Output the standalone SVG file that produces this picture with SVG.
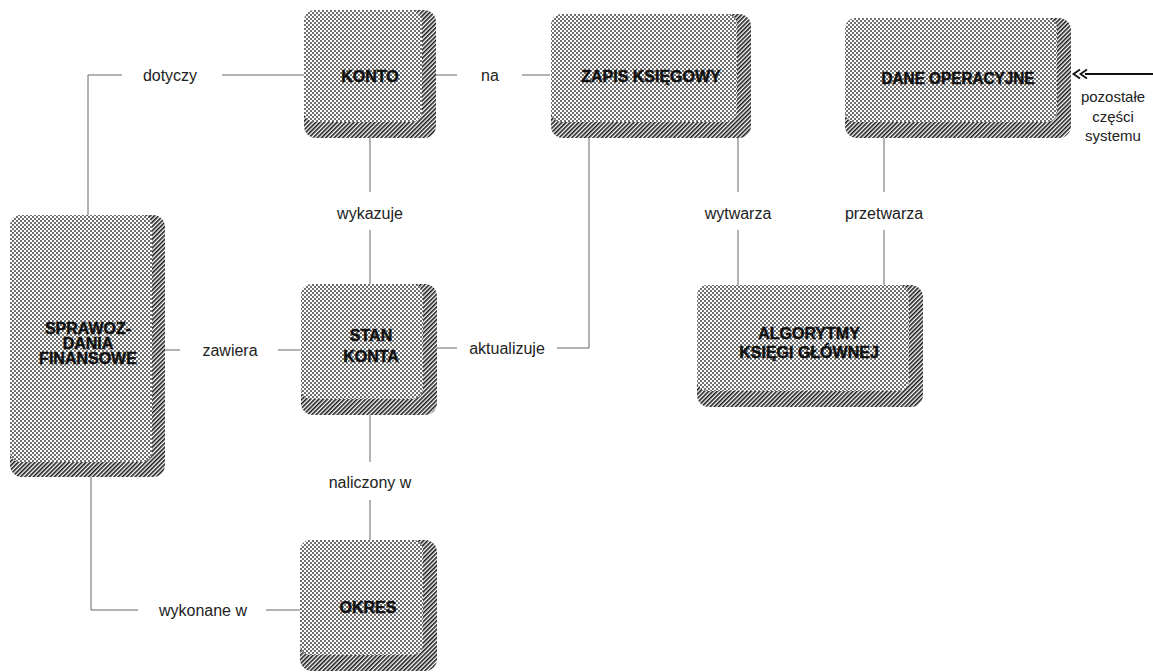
<svg xmlns="http://www.w3.org/2000/svg" width="1153" height="672" viewBox="0 0 1153 672">
  <defs>
    <!-- halftone face of a key-cap box -->
    <pattern id="dots" width="4" height="4" patternUnits="userSpaceOnUse">
      <rect width="4" height="4" fill="#fff"/>
      <circle cx="1" cy="1" r="0.95" fill="#333"/>
      <circle cx="3" cy="3" r="0.95" fill="#333"/>
    </pattern>
    <!-- darker hatched bevel on the right and bottom -->
    <pattern id="hatch" width="3" height="3" patternUnits="userSpaceOnUse" patternTransform="rotate(45)">
      <rect width="3" height="3" fill="#fff"/>
      <rect width="1.6" height="3" fill="#1a1a1a"/>
    </pattern>
  </defs>
  <style>
    .bevel { fill: url(#hatch); }
    .face { fill: url(#dots); }
    .name { font-family: "Liberation Sans", Arial, sans-serif; font-weight: bold; font-size: 16px; fill: #111; stroke: #111; stroke-width: 0.5; text-anchor: middle; }
    .lbl { font-family: "Liberation Sans", Arial, sans-serif; font-size: 16px; fill: #222; text-anchor: middle; }
    .side { font-size: 15px; }
    .ln { fill: none; stroke: #666; stroke-width: 1; }
    .inflow { fill: none; stroke: #111; stroke-width: 1.8; }
  </style>
  <rect width="1153" height="672" fill="#fff"/>

  <!-- connectors -->
  <g id="connectors">
    <path class="ln" d="M88,215 V75 H122 M222,75 H304"/>
    <text class="lbl" x="170" y="81">dotyczy</text>
    <path class="ln" d="M436,75 H457 M522,75 H550"/>
    <text class="lbl" x="490" y="81">na</text>
    <path class="ln" d="M370,138 V192 M370,230 V285"/>
    <text class="lbl" x="370" y="219">wykazuje</text>
    <path class="ln" d="M437,348 H457 M557,348 H589 V138"/>
    <text class="lbl" x="507" y="354">aktualizuje</text>
    <path class="ln" d="M738,138 V192 M738,230 V285"/>
    <text class="lbl" x="738" y="219">wytwarza</text>
    <path class="ln" d="M884,138 V192 M884,230 V285"/>
    <text class="lbl" x="884" y="219">przetwarza</text>
    <path class="ln" d="M165,350 H180 M278,350 H302"/>
    <text class="lbl" x="230" y="356">zawiera</text>
    <path class="ln" d="M370,415 V462 M370,500 V540"/>
    <text class="lbl" x="370" y="488">naliczony w</text>
    <path class="ln" d="M91,477 V610 H138 M266,610 H300"/>
    <text class="lbl" x="203" y="616">wykonane w</text>
    <!-- incoming flow from the rest of the system, double chevron head -->
    <path class="inflow" d="M1085,74 H1153"/>
    <path class="inflow" stroke-width="2.2" d="M1080,69.5 L1073.5,74 L1080,78.5 M1087,69.5 L1080.5,74 L1087,78.5"/>
    <text class="lbl side" x="1113" y="102">pozostałe</text>
    <text class="lbl side" x="1113" y="122">części</text>
    <text class="lbl side" x="1113" y="141">systemu</text>
  </g>

  <!-- nodes -->
  <g id="konto">
    <rect class="bevel" x="304" y="10" width="132" height="128" rx="12"/>
    <rect class="face" x="304" y="10" width="118" height="112" rx="10"/>
    <text class="name" x="370" y="82">KONTO</text>
  </g>
  <g id="zapis-ksiegowy">
    <rect class="bevel" x="551" y="14" width="200" height="124" rx="12"/>
    <rect class="face" x="551" y="14" width="186" height="108" rx="10"/>
    <text class="name" x="651" y="82">ZAPIS KSIĘGOWY</text>
  </g>
  <g id="dane-operacyjne">
    <rect class="bevel" x="845" y="18" width="226" height="120" rx="12"/>
    <rect class="face" x="845" y="18" width="212" height="104" rx="10"/>
    <text class="name" x="958" y="84" textLength="153" lengthAdjust="spacingAndGlyphs">DANE OPERACYJNE</text>
  </g>
  <g id="sprawozdania-finansowe">
    <rect class="bevel" x="10" y="215" width="155" height="262" rx="12"/>
    <rect class="face" x="10" y="215" width="142" height="247" rx="10"/>
    <text class="name" x="88" y="334">SPRAWOZ-</text>
    <text class="name" x="88" y="349">DANIA</text>
    <text class="name" x="88" y="364">FINANSOWE</text>
  </g>
  <g id="stan-konta">
    <rect class="bevel" x="301" y="284" width="136" height="131" rx="12"/>
    <rect class="face" x="301" y="284" width="122" height="115" rx="10"/>
    <text class="name" x="371" y="341">STAN</text>
    <text class="name" x="371" y="362">KONTA</text>
  </g>
  <g id="algorytmy">
    <rect class="bevel" x="697" y="285" width="226" height="122" rx="12"/>
    <rect class="face" x="697" y="285" width="212" height="106" rx="10"/>
    <text class="name" x="809" y="339">ALGORYTMY</text>
    <text class="name" x="809" y="358">KSIĘGI GŁÓWNEJ</text>
  </g>
  <g id="okres">
    <rect class="bevel" x="300" y="540" width="137" height="131" rx="12"/>
    <rect class="face" x="300" y="540" width="123" height="115" rx="10"/>
    <text class="name" x="368" y="613">OKRES</text>
  </g>
</svg>
